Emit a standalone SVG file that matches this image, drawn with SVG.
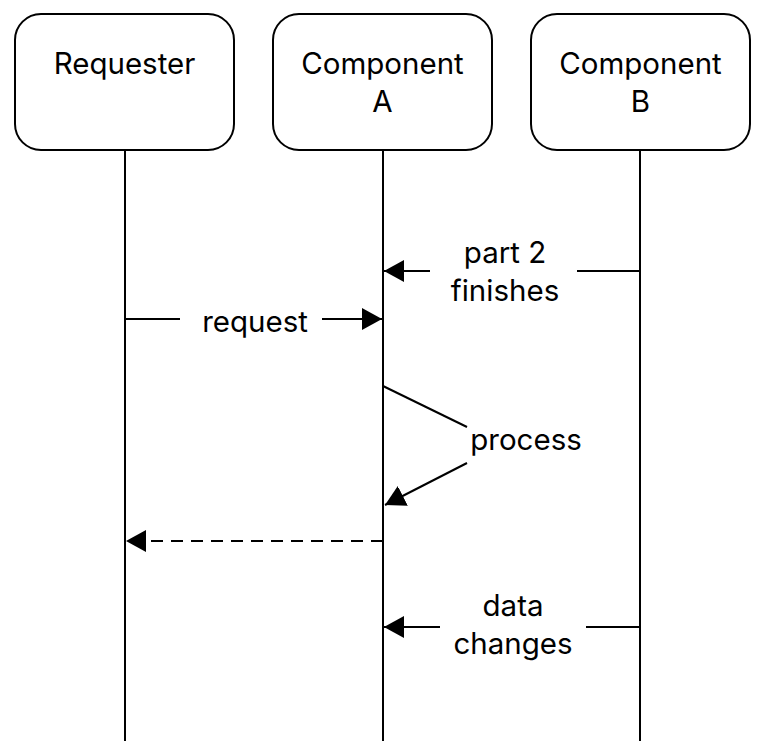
<svg xmlns="http://www.w3.org/2000/svg" width="763" height="754" viewBox="0 0 763 754">
<style>
.box{fill:#fff;stroke:#000;stroke-width:2}
.ln{stroke:#000;stroke-width:2;fill:none}
.t{font-family:Inter,"Noto Sans",sans-serif;font-size:29.5px;fill:#000;text-anchor:middle}
</style>
<defs>
<marker id="ah" markerWidth="20" markerHeight="22" refX="20" refY="11" orient="auto" markerUnits="userSpaceOnUse">
<path d="M0,0 L20,11 L0,22 Z" fill="#000"/>
</marker>
</defs>
<rect width="763" height="754" fill="#fff"/>
<g id="lifelines">
<line class="ln" x1="125" y1="150" x2="125" y2="741"/>
<line class="ln" x1="383" y1="150" x2="383" y2="741"/>
<line class="ln" x1="640" y1="150" x2="640" y2="741"/>
</g>
<g id="requester">
<rect class="box" x="15" y="14" width="219" height="136" rx="26"/>
<text class="t" x="124.5" y="74">Requester</text>
</g>
<g id="componentA">
<rect class="box" x="273" y="14" width="219" height="136" rx="26"/>
<text class="t" x="382.5" y="74">Component</text>
<text class="t" x="382.5" y="112">A</text>
</g>
<g id="componentB">
<rect class="box" x="531" y="14" width="219" height="136" rx="26"/>
<text class="t" x="640.5" y="74">Component</text>
<text class="t" x="640.5" y="112">B</text>
</g>
<g id="connectors">
<line class="ln" x1="640" y1="271" x2="577" y2="271"/>
<line class="ln" x1="430" y1="271" x2="384" y2="271" marker-end="url(#ah)"/>
<text class="t" x="505" y="263">part 2</text>
<text class="t" x="505" y="301">finishes</text>

<line class="ln" x1="125" y1="319" x2="180" y2="319"/>
<line class="ln" x1="322" y1="319" x2="382" y2="319" marker-end="url(#ah)"/>
<text class="t" x="255" y="332">request</text>

<line class="ln" x1="383" y1="386" x2="467" y2="427"/>
<line class="ln" x1="467" y1="463" x2="385" y2="505" marker-end="url(#ah)"/>
<text class="t" x="526" y="450">process</text>

<line class="ln" x1="383" y1="541" x2="126" y2="541" stroke-dasharray="12,8" marker-end="url(#ah)"/>

<line class="ln" x1="640" y1="627" x2="586" y2="627"/>
<line class="ln" x1="440" y1="627" x2="384" y2="627" marker-end="url(#ah)"/>
<text class="t" x="513" y="616">data</text>
<text class="t" x="513" y="654">changes</text>
</g>
</svg>
